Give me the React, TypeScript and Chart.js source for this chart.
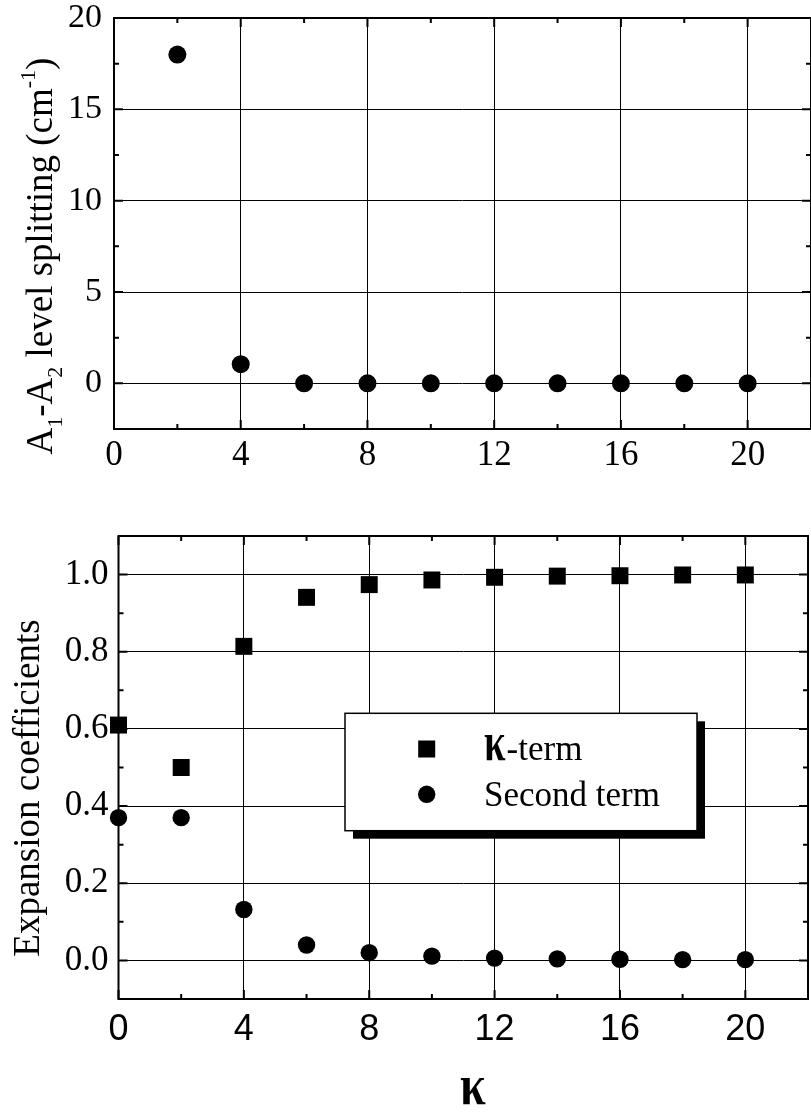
import React, { useEffect, useRef } from "react";
import { Chart, registerables } from "chart.js";
Chart.register(...registerables);

const SERIF = "'Liberation Serif', 'Times New Roman', serif";
const SANS = "'Liberation Sans', Arial, sans-serif";

// ---- data ----
const TOP_KAPPA = [2, 4, 6, 8, 10, 12, 14, 16, 18, 20];
const TOP_SPLITTING = [18, 1.05, 0, 0, 0, 0, 0, 0, 0, 0];

const BOTTOM_KAPPA = [0, 2, 4, 6, 8, 10, 12, 14, 16, 18, 20];
const KAPPA_TERM = [0.61, 0.5, 0.814, 0.941, 0.974, 0.986, 0.993, 0.996, 0.997, 0.999, 0.999];
const SECOND_TERM = [0.37, 0.37, 0.132, 0.04, 0.02, 0.011, 0.006, 0.004, 0.003, 0.002, 0.002];

const X_TICKS = [0, 4, 8, 12, 16, 20];
const X_MINOR_TICKS = [2, 6, 10, 14, 18];
const TOP_Y_TICKS = [0, 5, 10, 15, 20];
const TOP_Y_MINOR_TICKS = [2.5, 7.5, 12.5, 17.5];
const BOTTOM_Y_TICKS = [0, 0.2, 0.4, 0.6, 0.8, 1.0];
const BOTTOM_Y_MINOR_TICKS = [0.1, 0.3, 0.5, 0.7, 0.9];

const LEGEND_LABELS = ["-term", "Second term"];

type Seg = { t: string; size: number; dy?: number };

function framePlugin(xMajor: number[], xMinor: number[], yMajor: number[], yMinor: number[]) {
  return {
    id: "frame",
    beforeDatasetsDraw(chart: any) {
      const { ctx, chartArea: a, scales } = chart;
      const xs = scales.x;
      const ys = scales.y;
      ctx.save();
      ctx.strokeStyle = "#000";
      ctx.lineWidth = 2;
      ctx.strokeRect(a.left, a.top, a.right - a.left, a.bottom - a.top);
      ctx.beginPath();
      const tick = (vals: number[], len: number) => {
        vals.forEach((v) => {
          const p = xs.getPixelForValue(v);
          ctx.moveTo(p, a.bottom);
          ctx.lineTo(p, a.bottom - len);
          ctx.moveTo(p, a.top);
          ctx.lineTo(p, a.top + len);
        });
      };
      const ytick = (vals: number[], len: number) => {
        vals.forEach((v) => {
          const p = ys.getPixelForValue(v);
          ctx.moveTo(a.left, p);
          ctx.lineTo(a.left + len, p);
          ctx.moveTo(a.right, p);
          ctx.lineTo(a.right - len, p);
        });
      };
      tick(xMajor, 9);
      tick(xMinor, 5);
      ytick(yMajor, 9);
      ytick(yMinor, 5);
      ctx.stroke();
      ctx.restore();
    },
  };
}

function drawRotatedRich(ctx: CanvasRenderingContext2D, segs: Seg[], baseX: number, cy: number) {
  ctx.save();
  ctx.translate(baseX, cy);
  ctx.rotate(-Math.PI / 2);
  ctx.textBaseline = "alphabetic";
  ctx.textAlign = "left";
  ctx.fillStyle = "#000";
  let total = 0;
  const widths = segs.map((s) => {
    ctx.font = `${s.size}px ${SERIF}`;
    const w = ctx.measureText(s.t).width;
    total += w;
    return w;
  });
  let x = -total / 2;
  segs.forEach((s, i) => {
    ctx.font = `${s.size}px ${SERIF}`;
    ctx.fillText(s.t, x, s.dy || 0);
    x += widths[i];
  });
  ctx.restore();
}

function drawKappa(ctx: CanvasRenderingContext2D, x: number, baseline: number, size: number, sx: number) {
  ctx.save();
  ctx.translate(x, baseline);
  ctx.scale(sx, 1);
  ctx.font = `bold ${size}px ${SERIF}`;
  ctx.textBaseline = "alphabetic";
  ctx.textAlign = "left";
  ctx.fillStyle = "#000";
  ctx.fillText("κ", 0, 0);
  const w = ctx.measureText("κ").width * sx;
  ctx.restore();
  return w;
}

const topTitlePlugin = {
  id: "topTitle",
  afterDraw(chart: any) {
    const segs: Seg[] = [
      { t: "A", size: 37 },
      { t: "1", size: 22, dy: 10 },
      { t: "-A", size: 37 },
      { t: "2", size: 22, dy: 10 },
      { t: " level splitting (cm", size: 37 },
      { t: "-1", size: 22, dy: -17 },
      { t: ")", size: 37 },
    ];
    drawRotatedRich(chart.ctx, segs, 52, 256);
  },
};

const bottomDecorPlugin = {
  id: "bottomDecor",
  afterDatasetsDraw(chart: any) {
    const ctx: CanvasRenderingContext2D = chart.ctx;
    // y title
    drawRotatedRich(ctx, [{ t: "Expansion coefficients", size: 37 }], 38.5, 288);
    // x title (kappa)
    drawKappa(ctx, 460, 604, 58, 0.8);
    // legend box with shadow
    const L = 345, T = 213.3, W = 352, H = 117.4;
    ctx.save();
    ctx.fillStyle = "#000";
    ctx.fillRect(L + 8, T + 8, W, H);
    ctx.fillStyle = "#fff";
    ctx.fillRect(L, T, W, H);
    ctx.strokeStyle = "#000";
    ctx.lineWidth = 1.5;
    ctx.strokeRect(L, T, W, H);
    // markers
    ctx.fillStyle = "#000";
    ctx.fillRect(426.7 - 8.5, 249 - 8.5, 17, 17);
    ctx.beginPath();
    ctx.arc(426.7, 294.3, 8.7, 0, Math.PI * 2);
    ctx.fill();
    // labels
    const kw = drawKappa(ctx, 484, 260, 54, 0.72);
    ctx.font = `35px ${SERIF}`;
    ctx.textBaseline = "alphabetic";
    ctx.textAlign = "left";
    ctx.fillStyle = "#000";
    ctx.fillText(LEGEND_LABELS[0], 484 + kw + 1, 260);
    ctx.fillText(LEGEND_LABELS[1], 484, 306);
    ctx.restore();
  },
};

function axisCommon() {
  return {
    type: "linear" as const,
    grid: { color: "#000", lineWidth: 1, drawTicks: false },
    border: { display: false },
  };
}

export default function App() {
  const topRef = useRef<HTMLCanvasElement>(null);
  const botRef = useRef<HTMLCanvasElement>(null);

  useEffect(() => {
    const top = new Chart(topRef.current as HTMLCanvasElement, {
      type: "scatter",
      data: {
        datasets: [
          {
            data: TOP_KAPPA.map((k, i) => ({ x: k, y: TOP_SPLITTING[i] })),
            pointStyle: "circle",
            pointRadius: 9,
            backgroundColor: "#000",
            borderColor: "#000",
            borderWidth: 0,
            clip: false,
          } as any,
        ],
      },
      options: {
        responsive: false,
        animation: false,
        events: [],
        layout: { padding: { top: 18, right: 8, left: 0, bottom: 0 } },
        plugins: { legend: { display: false }, tooltip: { enabled: false } },
        scales: {
          x: {
            ...axisCommon(),
            min: 0,
            max: 22,
            afterBuildTicks: (s: any) => {
              s.ticks = X_TICKS.map((v) => ({ value: v }));
            },
            afterFit: (s: any) => {
              s.height = 71;
            },
            ticks: { font: { family: SERIF, size: 35 }, color: "#000", padding: 6, maxRotation: 0, autoSkip: false },
          },
          y: {
            ...axisCommon(),
            min: -2.5,
            max: 20,
            afterBuildTicks: (s: any) => {
              s.ticks = TOP_Y_TICKS.map((v) => ({ value: v }));
            },
            afterFit: (s: any) => {
              s.width = 114;
            },
            ticks: { font: { family: SERIF, size: 34, lineHeight: 0.3 }, color: "#000", padding: 12 },
          },
        },
      } as any,
      plugins: [framePlugin(X_TICKS, X_MINOR_TICKS, TOP_Y_TICKS, TOP_Y_MINOR_TICKS), topTitlePlugin],
    });

    const bot = new Chart(botRef.current as HTMLCanvasElement, {
      type: "scatter",
      data: {
        datasets: [
          {
            data: BOTTOM_KAPPA.map((k, i) => ({ x: k, y: KAPPA_TERM[i] })),
            pointStyle: "rect",
            pointRadius: 12,
            backgroundColor: "#000",
            borderColor: "#000",
            borderWidth: 0,
            clip: false,
          } as any,
          {
            data: BOTTOM_KAPPA.map((k, i) => ({ x: k, y: SECOND_TERM[i] })),
            pointStyle: "circle",
            pointRadius: 8.7,
            backgroundColor: "#000",
            borderColor: "#000",
            borderWidth: 0,
            clip: false,
          } as any,
        ],
      },
      options: {
        responsive: false,
        animation: false,
        events: [],
        layout: { padding: { top: 36, right: 8, left: 0, bottom: 0 } },
        plugins: { legend: { display: false }, tooltip: { enabled: false } },
        scales: {
          x: {
            ...axisCommon(),
            min: 0,
            max: 22,
            afterBuildTicks: (s: any) => {
              s.ticks = X_TICKS.map((v) => ({ value: v }));
            },
            afterFit: (s: any) => {
              s.height = 113;
            },
            ticks: { font: { family: SANS, size: 36 }, color: "#000", padding: 9, maxRotation: 0, autoSkip: false },
          },
          y: {
            ...axisCommon(),
            min: -0.1,
            max: 1.1,
            afterBuildTicks: (s: any) => {
              s.ticks = BOTTOM_Y_TICKS.map((v) => ({ value: v }));
            },
            afterFit: (s: any) => {
              s.width = 118.5;
            },
            ticks: {
              font: { family: SERIF, size: 35, lineHeight: 0.3 },
              color: "#000",
              padding: 10,
              callback: (v: any) => Number(v).toFixed(1),
            },
          },
        },
      } as any,
      plugins: [framePlugin(X_TICKS, X_MINOR_TICKS, BOTTOM_Y_TICKS, BOTTOM_Y_MINOR_TICKS), bottomDecorPlugin],
    });

    return () => {
      top.destroy();
      bot.destroy();
    };
  }, []);

  return (
    <div
      style={{
        position: "absolute",
        left: 0,
        top: 0,
        width: 811,
        height: 1112,
        overflow: "hidden",
        background: "#fff",
      }}
    >
      <canvas
        ref={topRef}
        width={820}
        height={500}
        style={{ position: "absolute", left: 0, top: 0, width: 820, height: 500 }}
      />
      <canvas
        ref={botRef}
        width={820}
        height={612}
        style={{ position: "absolute", left: 0, top: 500, width: 820, height: 612 }}
      />
    </div>
  );
}
